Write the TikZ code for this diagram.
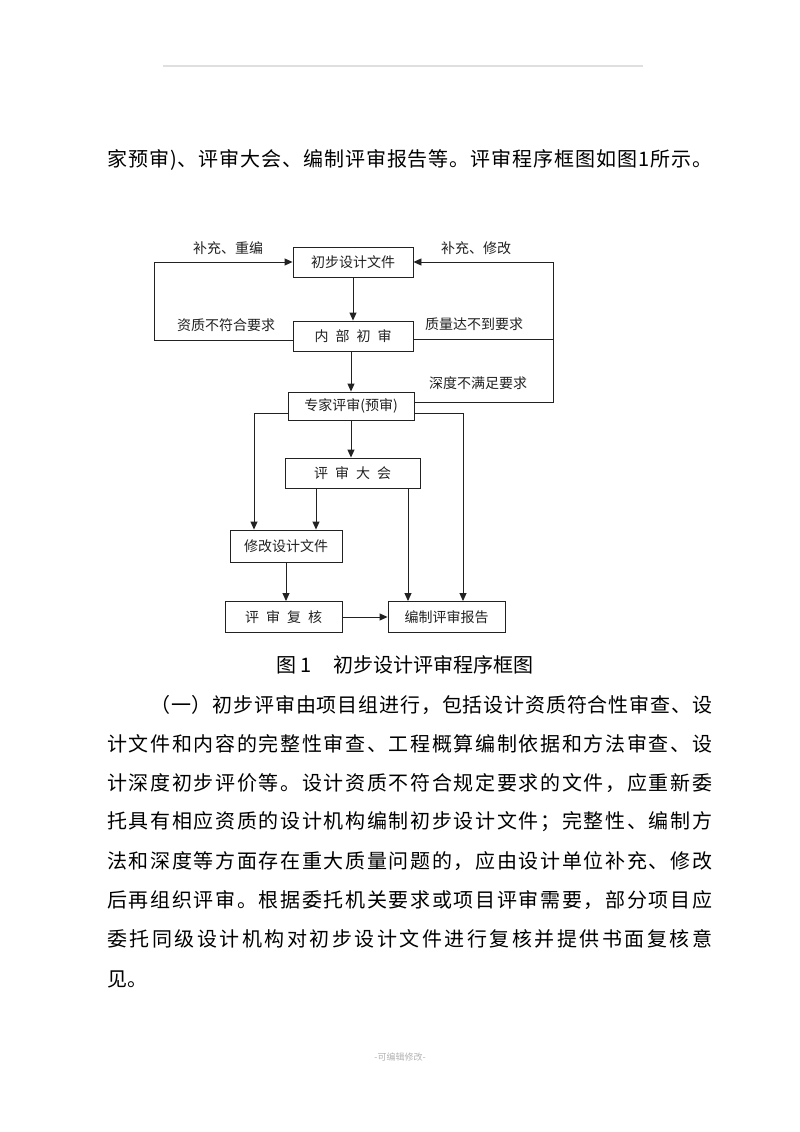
\documentclass[tikz,border=0pt]{standalone}
\usepackage{fontspec}
\newfontfamily\cjk{Noto Sans CJK SC}
\usetikzlibrary{arrows.meta}
\ExplSyntaxOn
\NewDocumentCommand\spreadto{mm}{\hbox~to~#1{\tl_map_inline:nn{#2}{##1\hfil}\unskip}}
\ExplSyntaxOff
\definecolor{ink}{HTML}{222222}
\tikzset{
  box/.style={draw=ink, line width=0.9pt, inner sep=0pt, text=ink,
    font=\cjk\fontsize{14}{14}\selectfont},
  lbl/.style={inner sep=0pt, text=ink, font=\cjk\fontsize{14}{14}\selectfont},
  conn/.style={draw=ink, line width=0.9pt},
  arr/.style={conn, -{Triangle[length=8pt,width=7pt]}},
  body/.style={inner sep=0pt, anchor=west, text=black, font=\cjk\fontsize{20}{20}\selectfont},
}
\newcommand\gap{\hspace{7pt}}
\begin{document}
\begin{tikzpicture}[x=1pt,y=-1pt]
\useasboundingbox[fill=white] (0,0) rectangle (800,1132);
% header rule
\draw[gray!25, line width=1.2pt] (163,66) -- (643,66);
% top text line
\node[body] (t0) at (107,160) {\spreadto{605pt}{家预审)、评审大会、编制评审报告等。评审程序框图如图1所示。}};
% boxes
\node[box, minimum width=120pt, minimum height=30pt] (n1) at (353,262) {初步设计文件};
\node[box, minimum width=120pt, minimum height=30pt] (n2) at (353,336) {内\gap 部\gap 初\gap 审};
\node[box, minimum width=126pt, minimum height=28pt] (n3) at (351,406) {专家评审(预审)};
\node[box, minimum width=135pt, minimum height=30pt] (n4) at (352.5,473) {评\gap 审\gap 大\gap 会};
\node[box, minimum width=112pt, minimum height=32pt] (n5) at (286,546) {修改设计文件};
\node[box, minimum width=117pt, minimum height=31pt] (n6) at (283.5,617) {评\gap 审\gap 复\gap 核};
\node[box, minimum width=117pt, minimum height=31pt] (n7) at (446.5,617) {编制评审报告};
% labels
\node[lbl] (l1) at (228,248) {补充、重编};
\node[lbl] (l2) at (476,248) {补充、修改};
\node[lbl] (l3) at (226,325) {资质不符合要求};
\node[lbl] (l4) at (474,324) {质量达不到要求};
\node[lbl] (l5) at (478,383) {深度不满足要求};
% guide coordinates
\coordinate (L) at (154,0);
\coordinate (R) at (553,0);
\coordinate (A) at (254,0);
\coordinate (B) at (463,0);
\coordinate (C) at (316,0);
\coordinate (D) at (408,0);
\path ([yshift=-4pt]n2.west) coordinate (q2l);
\path ([yshift=-3pt]n2.east) coordinate (q2r);
\path ([yshift=4pt]n3.east) coordinate (q3t);
\path ([yshift=-7pt]n3.west) coordinate (q3l);
\path ([yshift=-7pt]n3.east) coordinate (q3r);
% connectors
\draw[arr] (n1.south) -- (n2.north);
\draw[arr] (n2.south -| n3.north) -- (n3.north);
\draw[arr] (q2l) -| (L |- n1.west) -- (n1.west);
\draw[conn] (q2r) -- (R |- q2r);
\draw[arr] (q3t) -| (R |- n1.east) -- (n1.east);
\draw[arr] (q3l) -| (A |- n5.north);
\draw[arr] (q3r) -| (B |- n7.north);
\draw[arr] (n3.south) -- (n3.south |- n4.north);
\draw[arr] (C |- n4.south) -- (C |- n5.north);
\draw[arr] (D |- n4.south) -- (D |- n7.north);
\draw[arr] (n5.south) -- (n5.south |- n6.north);
\draw[arr] (n6.east) -- (n7.west);
% caption
\node[inner sep=0pt, text=black, font=\cjk\fontsize{20}{20}\selectfont] (cap) at (405,665) {图 1\hspace{22pt}初步设计评审程序框图};
% body paragraph
\node[body] (b1) at (150,705) {\spreadto{562pt}{（一）初步评审由项目组进行，包括设计资质符合性审查、设}};
\node[body] (b2) at (107,744) {\spreadto{605pt}{计文件和内容的完整性审查、工程概算编制依据和方法审查、设}};
\node[body] (b3) at (107,783) {\spreadto{605pt}{计深度初步评价等。设计资质不符合规定要求的文件，应重新委}};
\node[body] (b4) at (107,822) {\spreadto{605pt}{托具有相应资质的设计机构编制初步设计文件；完整性、编制方}};
\node[body] (b5) at (107,861) {\spreadto{605pt}{法和深度等方面存在重大质量问题的，应由设计单位补充、修改}};
\node[body] (b6) at (107,900) {\spreadto{605pt}{后再组织评审。根据委托机关要求或项目评审需要，部分项目应}};
\node[body] (b7) at (107,939) {\spreadto{605pt}{委托同级设计机构对初步设计文件进行复核并提供书面复核意}};
\node[body] (b8) at (107,979) {见。};
% footer
\node[inner sep=0pt, text=gray!60, font=\cjk\fontsize{9}{9}\selectfont] (ft) at (400,1057) {-可编辑修改-};
\end{tikzpicture}
\end{document}
